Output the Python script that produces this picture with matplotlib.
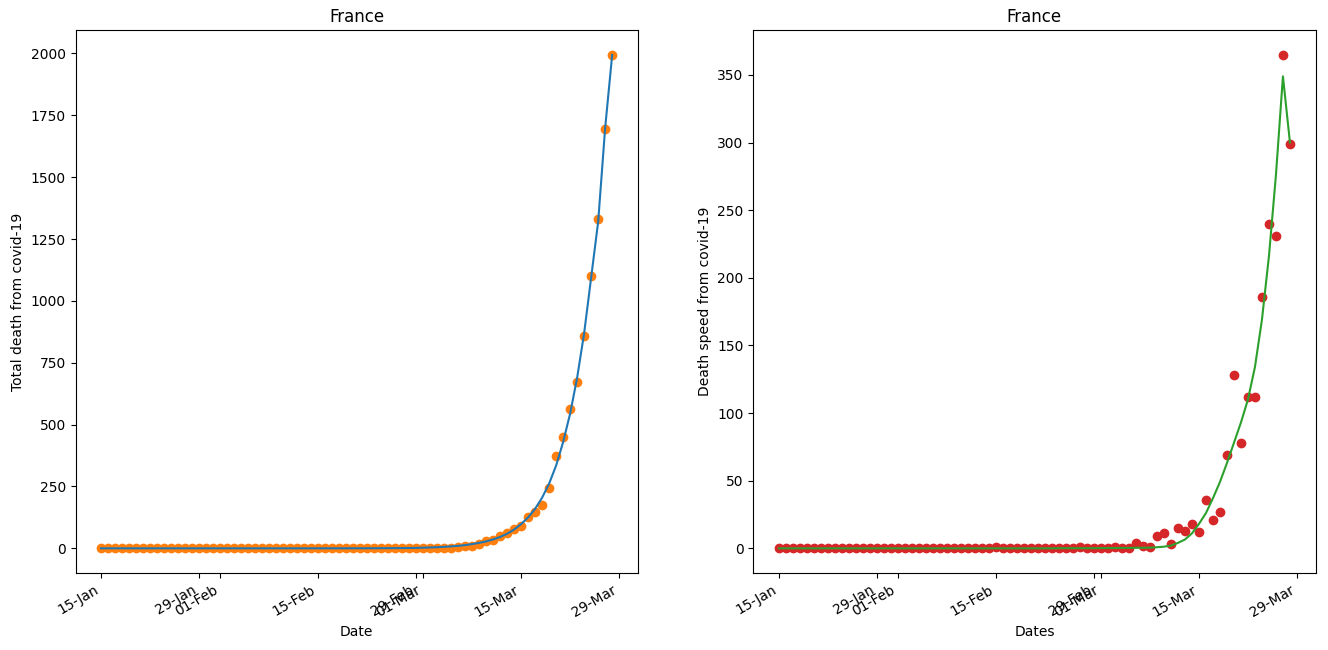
import numpy as np
import pandas as pd
import matplotlib
matplotlib.use("Agg")
import matplotlib.pyplot as plt
import matplotlib.dates as mdates

# daily dates, 15-Jan to 28-Mar 2020
dates = pd.date_range("2020-01-15", "2020-03-28", freq="D")

# cumulative deaths (France)
total_deaths = [
    0, 0, 0, 0, 0, 0, 0, 0, 0, 0, 0, 0, 0, 0, 0, 0, 0,      # 15-31 Jan
    0, 0, 0, 0, 0, 0, 0, 0, 0, 0, 0, 0, 0, 0,               # 01-14 Feb
    1, 1, 1, 1, 1, 1, 1, 1, 1, 1, 1, 1,                     # 15-26 Feb
    2, 2, 2,                                                # 27-29 Feb
    2, 2, 3, 3, 3, 7, 9, 10, 19, 30, 33, 48, 61, 79,        # 01-14 Mar
    91, 127, 148, 175, 244, 372, 450, 562, 674, 860,        # 15-24 Mar
    1100, 1331, 1696, 1995,                                 # 25-28 Mar
]

# fitted curve on the total
total_fit = [
    0.0, 0.0, 0.0, 0.0, 0.0, 0.0, 0.0, 0.0, 0.0, 0.0, 0.0, 0.0, 0.0, 0.0, 0.0, 0.0, 0.0,
    0.0, 0.0, 0.0, 0.0, 0.0, 0.0, 0.0, 0.0, 0.0, 0.0, 0.0, 0.0, 0.0, 0.0,
    0.1, 0.1, 0.1, 0.1, 0.1, 0.2, 0.2, 0.3, 0.4, 0.5, 0.6, 0.8,
    1.0, 1.3, 1.7,
    2.7, 3.5, 4.5, 6.0, 8.0, 10.0, 13.0, 17.0, 22.0, 28.0, 36.0, 46.0, 59.0, 76.0,
    98.0, 125.0, 160.0, 205.0, 262.0, 335.0, 430.0, 545.0, 690.0, 870.0,
    1095.0, 1320.0, 1700.0, 1994.0,
]

# daily deaths
daily_deaths = np.diff(total_deaths, prepend=0)

# fitted curve on the daily deaths
daily_fit = [
    0.0, 0.0, 0.0, 0.0, 0.0, 0.0, 0.0, 0.0, 0.0, 0.0, 0.0, 0.0, 0.0, 0.0, 0.0, 0.0, 0.0,
    0.0, 0.0, 0.0, 0.0, 0.0, 0.0, 0.0, 0.0, 0.0, 0.0, 0.0, 0.0, 0.0, 0.0,
    0.0, 0.0, 0.0, 0.0, 0.0, 0.0, 0.0, 0.0, 0.0, 0.1, 0.1, 0.1,
    0.1, 0.1, 0.1,
    0.2, 0.2, 0.2, 0.3, 0.3, 0.4, 0.4, 0.5, 0.8, 1.2, 2.0, 4.0, 6.5, 11.0,
    18.0, 26.0, 37.0, 49.0, 63.0, 78.0, 93.0, 110.0, 134.0, 169.0,
    216.0, 276.0, 349.0, 300.0,
]

fig, (ax1, ax2) = plt.subplots(1, 2, figsize=(13.28, 6.5), dpi=100)

ax1.plot(dates, total_fit, color="#1f77b4")
ax1.scatter(dates, total_deaths, color="#ff7f0e")
ax1.set_title("France")
ax1.set_xlabel("Date")
ax1.set_ylabel("Total death from covid-19")

ax2.plot(dates, daily_fit, color="#2ca02c")
ax2.scatter(dates, daily_deaths, color="#d62728")
ax2.set_title("France")
ax2.set_xlabel("Dates")
ax2.set_ylabel("Death speed from covid-19")

for ax in (ax1, ax2):
    ax.xaxis.set_major_locator(mdates.DayLocator(bymonthday=[1, 15, 29]))
    ax.xaxis.set_major_formatter(mdates.DateFormatter("%d-%b"))

fig.autofmt_xdate()
fig.subplots_adjust(left=75.5 / 1328, right=1315.5 / 1328,
                    bottom=77 / 650, top=620 / 650, wspace=0.2055)

fig.savefig("out.png", dpi=100)
